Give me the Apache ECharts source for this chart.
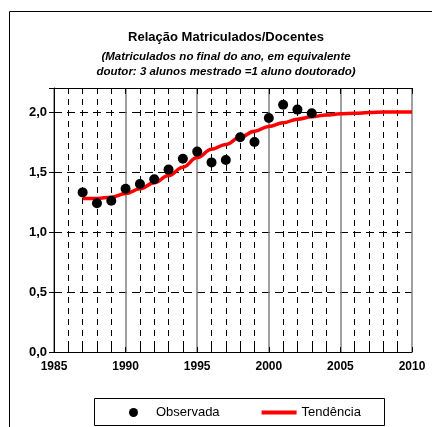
<!DOCTYPE html>
<html>
<head>
<meta charset="utf-8">
<script src="https://cdn.jsdelivr.net/npm/echarts@6/dist/echarts.min.js"></script>
<style>
  html, body { margin: 0; padding: 0; background: #fff; }
  #graph { width: 432px; height: 427px; }
</style>
</head>
<body>
<div id="graph"></div>
<script>
// dados
var anosObs = [1987, 1988, 1989, 1990, 1991, 1992, 1993, 1994, 1995, 1996, 1997, 1998, 1999, 2000, 2001, 2002, 2003];
var observada = [1.33, 1.24, 1.26, 1.36, 1.40, 1.44, 1.52, 1.61, 1.67, 1.58, 1.60, 1.79, 1.75, 1.95, 2.06, 2.02, 1.99];
var anosTend = [1987, 1988, 1989, 1990, 1991, 1992, 1993, 1994, 1995, 1996, 1997, 1998, 1999, 2000, 2001, 2002, 2003, 2004, 2005, 2006, 2007, 2008, 2009, 2010];
var tendencia = [1.28, 1.28, 1.29, 1.32, 1.36, 1.41, 1.47, 1.54, 1.62, 1.69, 1.73, 1.79, 1.84, 1.88, 1.91, 1.94, 1.96, 1.975, 1.985, 1.99, 1.995, 2.00, 2.00, 2.00];

var fonte = 'Liberation Sans, Arial, sans-serif';

var dadosObs = [];
for (var i = 0; i < anosObs.length; i++) {
    dadosObs.push([anosObs[i], observada[i]]);
}
var dadosTend = [];
for (var i = 0; i < anosTend.length; i++) {
    dadosTend.push([anosTend[i], tendencia[i]]);
}

var myChart = echarts.init(document.getElementById('graph'));

var option = {
    animation: false,
    backgroundColor: '#fff',
    graphic: [
        // moldura externa
        { type: 'rect', shape: { x: 9.5, y: 11.5, width: 450, height: 450 },
          style: { fill: 'none', stroke: '#000', lineWidth: 1 }, z: -1 },
        { type: 'text', x: 226, y: 31,
          style: { text: 'Relação Matriculados/Docentes', font: 'bold 13px ' + fonte, fill: '#000', textAlign: 'center' } },
        { type: 'text', x: 226, y: 51,
          style: { text: '(Matriculados no final do ano, em equivalente', font: 'italic bold 11.5px ' + fonte, fill: '#000', textAlign: 'center' } },
        { type: 'text', x: 226, y: 66,
          style: { text: 'doutor: 3 alunos mestrado =1 aluno doutorado)', font: 'italic bold 11.5px ' + fonte, fill: '#000', textAlign: 'center' } },
        // caixa da legenda
        { type: 'rect', shape: { x: 94.5, y: 398.5, width: 290, height: 27 },
          style: { fill: 'none', stroke: '#000', lineWidth: 1 } }
    ],
    legend: {
        left: 129,
        top: 406,
        itemWidth: 35,
        itemHeight: 9,
        itemGap: 42,
        padding: 0,
        textStyle: { fontFamily: fonte, fontSize: 13, color: '#000' },
        data: [
            { name: 'Observada', icon: 'circle' },
            { name: 'Tendência', icon: 'path://M0,0 L35,0 L35,4 L0,4 Z' }
        ]
    },
    grid: { left: 54, right: 20, top: 88, bottom: 75 },
    xAxis: [{
        type: 'value',
        min: 1985, max: 2010, interval: 5,
        axisLine: { show: true, lineStyle: { color: '#000', width: 1 } },
        axisTick: { show: true, inside: true, length: 5, lineStyle: { color: '#000' } },
        minorTick: { show: true, splitNumber: 5, length: 5, lineStyle: { color: '#000' } },
        splitLine: { show: true, lineStyle: { color: '#808080', width: 1.5 } },
        minorSplitLine: { show: true, lineStyle: { color: '#000', width: 1, type: [6, 5] } },
        axisLabel: {
            fontFamily: fonte, fontSize: 12, fontWeight: 'bold', color: '#000', margin: 9,
            formatter: function (v) { return String(v); }
        }
    }, {
        type: 'value',
        position: 'top',
        min: 1985, max: 2010, interval: 5,
        axisLine: { show: true, onZero: false, lineStyle: { color: '#000', width: 1 } },
        axisTick: { show: true, inside: true, length: 6, lineStyle: { color: '#000' } },
        minorTick: { show: true, splitNumber: 5, length: 6, lineStyle: { color: '#000' } },
        splitLine: { show: false },
        axisLabel: { show: false }
    }],
    yAxis: {
        type: 'value',
        min: 0, max: 2.2, interval: 0.5,
        axisLine: { show: true, lineStyle: { color: '#000', width: 1 } },
        axisTick: { show: true, length: 5, lineStyle: { color: '#000' } },
        splitLine: { show: true, lineStyle: { color: '#000', width: 1, type: [8, 5] } },
        axisLabel: {
            fontFamily: fonte, fontSize: 13, fontWeight: 'bold', color: '#000', margin: 7,
            formatter: function (v) {
                if (Math.abs(v * 2 - Math.round(v * 2)) > 1e-6) return '';
                return v.toFixed(1).replace('.', ',');
            }
        }
    },
    series: [
        {
            name: 'Tendência',
            type: 'line',
            data: dadosTend,
            smooth: 0.4,
            smoothMonotone: 'x',
            symbol: 'none',
            lineStyle: { color: '#ff0000', width: 3.5 },
            itemStyle: { color: '#ff0000' },
            z: 2
        },
        {
            name: 'Observada',
            type: 'scatter',
            data: dadosObs,
            symbol: 'circle',
            symbolSize: 10,
            itemStyle: { color: '#000', opacity: 1 },
            z: 3
        }
    ]
};

myChart.setOption(option);
</script>
</body>
</html>
